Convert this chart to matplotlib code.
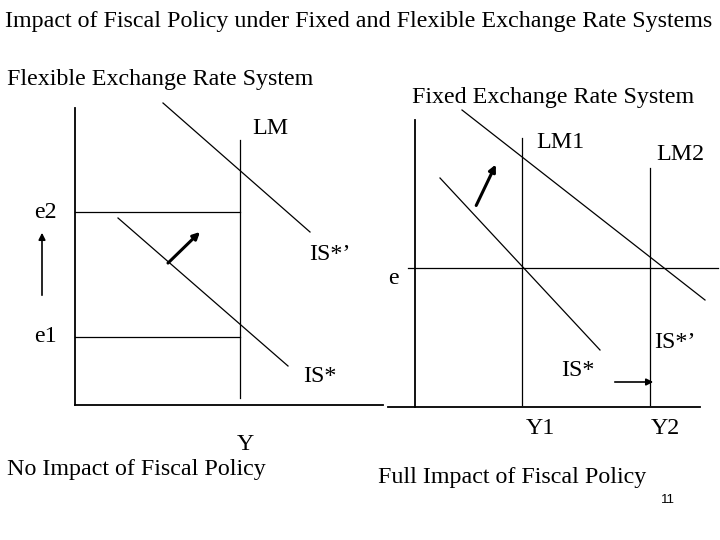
import matplotlib
matplotlib.use("Agg")
import matplotlib.pyplot as plt

# Diagram geometry (pixel coordinates, origin top-left)
axes_lines = [((75, 108), (75, 405)), ((75, 405), (383, 405)),
              ((415, 120), (415, 407)), ((388, 407), (700, 407))]
thin_lines = [((240, 140), (240, 398)),            # LM
              ((163, 103), (310, 232)),            # IS*'
              ((118, 218), (288, 366)),            # IS*
              ((75, 212), (240, 212)),             # e2
              ((75, 337), (240, 337)),             # e1
              ((522, 138), (522, 405)),            # LM1
              ((650, 168), (650, 405)),            # LM2
              ((408, 268), (718, 268)),            # e
              ((440, 178), (600, 350)),            # IS*
              ((462, 110), (705, 300))]            # IS*'
arrows = [((42, 298), (42, 230), 1.2), ((166, 265), (202, 230), 2.2),
          ((475, 208), (497, 162), 2.2), ((612, 382), (656, 382), 1.2)]
S = 17.3
labels = [("Impact of Fiscal Policy under Fixed and Flexible Exchange Rate Systems", 5, 22, "left", S),
          ("Flexible Exchange Rate System", 7, 80, "left", S),
          ("Fixed Exchange Rate System", 553, 97, "center", S),
          ("LM", 270, 128, "center", S), ("IS*’", 330, 255, "center", S),
          ("IS*", 320, 377, "center", S), ("e2", 45, 212, "center", S),
          ("e1", 45, 337, "center", S), ("Y", 245, 445, "center", S),
          ("No Impact of Fiscal Policy", 136, 470, "center", S),
          ("LM1", 560, 142, "center", S), ("LM2", 680, 155, "center", S),
          ("e", 393, 278, "center", S), ("IS*", 578, 370, "center", S),
          ("IS*’", 675, 343, "center", S), ("Y1", 540, 428, "center", S),
          ("Y2", 665, 428, "center", S),
          ("Full Impact of Fiscal Policy", 512, 477, "center", S)]

fig = plt.figure(figsize=(7.2, 5.4), dpi=100)
ax = fig.add_axes([0, 0, 1, 1])
ax.set_xlim(0, 720); ax.set_ylim(540, 0); ax.axis("off")

for (x0, y0), (x1, y1) in axes_lines:
    ax.plot([x0, x1], [y0, y1], color="black", lw=1.3)
for (x0, y0), (x1, y1) in thin_lines:
    ax.plot([x0, x1], [y0, y1], color="black", lw=0.9)
for (x0, y0), (x1, y1), w in arrows:
    ax.annotate("", xy=(x1, y1), xytext=(x0, y0),
                arrowprops=dict(arrowstyle="-|>", color="black", lw=w, mutation_scale=10))
for t, x, y, ha, s in labels:
    ax.text(x, y, t, ha=ha, va="center", fontsize=s, family="Liberation Serif")
ax.text(668, 500, "11", ha="center", va="center", fontsize=9.5, family="Liberation Sans")

fig.savefig("out.png", dpi=100)
